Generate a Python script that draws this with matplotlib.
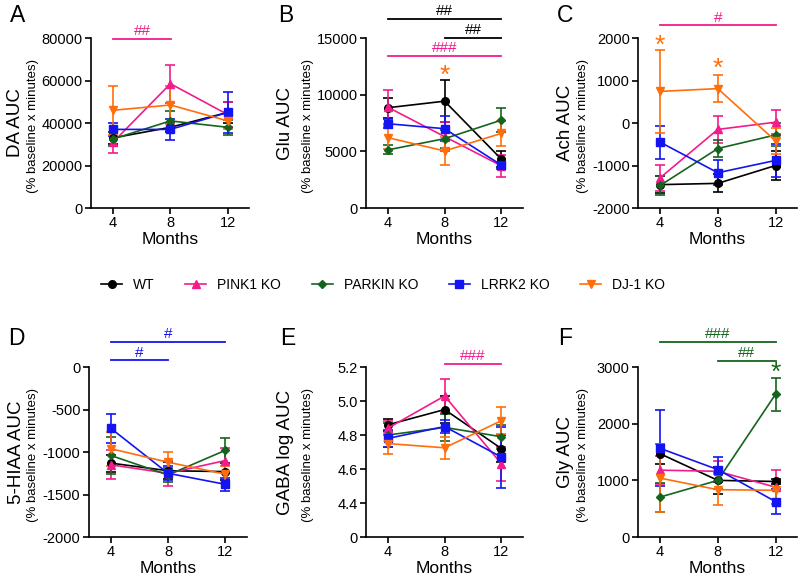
import matplotlib
matplotlib.use("Agg")
import matplotlib.pyplot as plt
from matplotlib.lines import Line2D

plt.rcParams['font.family'] = ['Liberation Sans', 'DejaVu Sans']
plt.rcParams['axes.unicode_minus'] = False

months = [4, 8, 12]
groups = ['WT', 'PINK1 KO', 'PARKIN KO', 'LRRK2 KO', 'DJ-1 KO']

# Panel A: DA AUC
da_wt = [33000, 38000, 45000];      da_wt_err = [3000, 2000, 5000]
da_pink1 = [31000, 58500, 44000];   da_pink1_err = [5000, 9000, 6000]
da_parkin = [32500, 41000, 38000];  da_parkin_err = [3500, 4500, 3500]
da_lrrk2 = [37000, 37000, 45000];   da_lrrk2_err = [3000, 5000, 9500]
da_dj1 = [46000, 48500, 41000];     da_dj1_err = [11500, 9000, 4000]

# Panel B: Glu AUC
glu_wt = [8850, 9430, 4300];        glu_wt_err = [900, 1850, 700]
glu_pink1 = [8900, 6300, 3720];     glu_pink1_err = [1500, 1300, 1000]
glu_parkin = [5130, 6120, 7760];    glu_parkin_err = [400, 800, 1030]
glu_lrrk2 = [7440, 7000, 3780];     glu_lrrk2_err = [400, 1100, 300]
glu_dj1 = [6210, 5040, 6590];       glu_dj1_err = [1000, 1200, 1100]

# Panel C: Ach AUC
ach_wt = [-1450, -1420, -1000];     ach_wt_err = [200, 210, 350]
ach_pink1 = [-1290, -150, 20];      ach_pink1_err = [300, 320, 280]
ach_parkin = [-1470, -600, -280];   ach_parkin_err = [220, 200, 270]
ach_lrrk2 = [-450, -1170, -880];    ach_lrrk2_err = [390, 300, 380]
ach_dj1 = [745, 810, -420];         ach_dj1_err = [975, 320, 300]

# Panel D: 5-HIAA AUC
hiaa_wt = [-1130, -1220, -1230];    hiaa_wt_err = [100, 100, 100]
hiaa_pink1 = [-1150, -1250, -1100]; hiaa_pink1_err = [170, 150, 150]
hiaa_parkin = [-1040, -1270, -980]; hiaa_parkin_err = [215, 80, 150]
hiaa_lrrk2 = [-720, -1250, -1380];  hiaa_lrrk2_err = [170, 80, 80]
hiaa_dj1 = [-960, -1120, -1260];    hiaa_dj1_err = [200, 120, 100]

# Panel E: GABA log AUC
gaba_wt = [4.86, 4.95, 4.72];       gaba_wt_err = [0.035, 0.08, 0.08]
gaba_pink1 = [4.84, 5.03, 4.63];    gaba_pink1_err = [0.04, 0.10, 0.10]
gaba_parkin = [4.80, 4.845, 4.79];  gaba_parkin_err = [0.07, 0.08, 0.07]
gaba_lrrk2 = [4.78, 4.85, 4.67];    gaba_lrrk2_err = [0.05, 0.04, 0.18]
gaba_dj1 = [4.75, 4.725, 4.885];    gaba_dj1_err = [0.06, 0.065, 0.08]

# Panel F: Gly AUC
gly_wt = [1470, 1000, 980];         gly_wt_err = [180, 240, 40]
gly_pink1 = [1180, 1160, 880];      gly_pink1_err = [250, 180, 300]
gly_parkin = [705, 1000, 2520];     gly_parkin_err = [255, 150, 290]
gly_lrrk2 = [1565, 1190, 625];      gly_lrrk2_err = [670, 215, 225]
gly_dj1 = [1040, 835, 825];         gly_dj1_err = [600, 275, 150]

C_BLACK = '#000000'
C_PINK = '#F21C8C'
C_GREEN = '#14641E'
C_BLUE = '#1414F0'
C_ORANGE = '#FF6E0A'
colors = [C_BLACK, C_PINK, C_GREEN, C_BLUE, C_ORANGE]
markers = ['o', '^', 'D', 's', 'v']
msizes = [5.5, 6, 4.5, 5.5, 6]

panels = [
    dict(title='DA AUC',
         series=[(da_wt, da_wt_err), (da_pink1, da_pink1_err), (da_parkin, da_parkin_err),
                 (da_lrrk2, da_lrrk2_err), (da_dj1, da_dj1_err)],
         ylim=(0, 80000), yticks=[0, 20000, 40000, 60000, 80000], yticklabels=None,
         sig=[(4, 8.05, 79700, '##', C_PINK)], stars=[],
         pos=[0.114, 0.6426, 0.1975, 0.292], lab=(-76, -58)),
    dict(title='Glu AUC',
         series=[(glu_wt, glu_wt_err), (glu_pink1, glu_pink1_err), (glu_parkin, glu_parkin_err),
                 (glu_lrrk2, glu_lrrk2_err), (glu_dj1, glu_dj1_err)],
         ylim=(0, 15000), yticks=[0, 5000, 10000, 15000], yticklabels=None,
         sig=[(4, 12, 16700, '##', C_BLACK), (8, 12, 15000, '##', C_BLACK),
              (4, 12, 13400, '###', C_PINK)],
         stars=[(8, 11700, C_ORANGE)],
         pos=[0.4575, 0.6426, 0.196, 0.292], lab=(-80, -58)),
    dict(title='Ach AUC',
         series=[(ach_wt, ach_wt_err), (ach_pink1, ach_pink1_err), (ach_parkin, ach_parkin_err),
                 (ach_lrrk2, ach_lrrk2_err), (ach_dj1, ach_dj1_err)],
         ylim=(-2000, 2000), yticks=[-2000, -1000, 0, 1000, 2000], yticklabels=None,
         sig=[(4, 12, 2300, '#', C_PINK)],
         stars=[(4, 1820, C_ORANGE), (8, 1270, C_ORANGE)],
         pos=[0.7975, 0.6426, 0.199, 0.292], lab=(-72, -55)),
    dict(title='5-HIAA AUC',
         series=[(hiaa_wt, hiaa_wt_err), (hiaa_pink1, hiaa_pink1_err), (hiaa_parkin, hiaa_parkin_err),
                 (hiaa_lrrk2, hiaa_lrrk2_err), (hiaa_dj1, hiaa_dj1_err)],
         ylim=(-2000, 0), yticks=[-2000, -1500, -1000, -500, 0], yticklabels=None,
         sig=[(4, 12, 300, '#', C_BLUE), (4, 8, 80, '#', C_BLUE)], stars=[],
         pos=[0.111, 0.0773, 0.1975, 0.292], lab=(-72, -56)),
    dict(title='GABA log AUC',
         series=[(gaba_wt, gaba_wt_err), (gaba_pink1, gaba_pink1_err), (gaba_parkin, gaba_parkin_err),
                 (gaba_lrrk2, gaba_lrrk2_err), (gaba_dj1, gaba_dj1_err)],
         ylim=(4.2, 5.2), yticks=[4.2, 4.4, 4.6, 4.8, 5.0, 5.2],
         yticklabels=['0', '4.4', '4.6', '4.8', '5.0', '5.2'],
         sig=[(8, 12, 5.22, '###', C_PINK)], stars=[],
         pos=[0.4575, 0.0773, 0.196, 0.292], lab=(-80, -58)),
    dict(title='Gly AUC',
         series=[(gly_wt, gly_wt_err), (gly_pink1, gly_pink1_err), (gly_parkin, gly_parkin_err),
                 (gly_lrrk2, gly_lrrk2_err), (gly_dj1, gly_dj1_err)],
         ylim=(0, 3000), yticks=[0, 1000, 2000, 3000], yticklabels=None,
         sig=[(4, 12, 3450, '###', C_GREEN), (8, 12, 3110, '##', C_GREEN)],
         stars=[(12, 2900, C_GREEN)],
         pos=[0.7975, 0.0773, 0.199, 0.292], lab=(-72, -55)),
]

fig = plt.figure(figsize=(8.0, 5.82), dpi=100)
LW = 1.2

for p in panels:
    ax = fig.add_axes(p['pos'])
    for (vals, err), c, m, ms in zip(p['series'], colors, markers, msizes):
        ax.errorbar(months, vals, yerr=err, color=c, marker=m, markersize=ms,
                    linewidth=LW, elinewidth=LW, capsize=3.5, capthick=LW,
                    clip_on=False, zorder=3)
    ax.set_xlim(2.47, 13.5)
    ax.set_ylim(*p['ylim'])
    ax.set_xticks(months)
    ax.set_yticks(p['yticks'])
    if p['yticklabels'] is not None:
        ax.set_yticklabels(p['yticklabels'])
    for s in ['top', 'right']:
        ax.spines[s].set_visible(False)
    for s in ['left', 'bottom']:
        ax.spines[s].set_linewidth(1.2)
    ax.tick_params(axis='both', width=1.2, length=4, labelsize=10.5, pad=2)
    ax.set_xlabel('Months', fontsize=12.5, labelpad=1)
    ax.annotate(p['title'], xy=(0, 0.5), xycoords='axes fraction',
                xytext=(p['lab'][0] * 0.72, 0), textcoords='offset points',
                rotation=90, ha='center', va='center', fontsize=13.5)
    ax.annotate('(% baseline x minutes)', xy=(0, 0.48), xycoords='axes fraction',
                xytext=(p['lab'][1] * 0.72, 0), textcoords='offset points',
                rotation=90, ha='center', va='center', fontsize=9.5)
    for (x1, x2, y, txt, c) in p['sig']:
        ax.plot([x1, x2], [y, y], color=c, linewidth=1.3, clip_on=False)
        ax.annotate(txt, xy=((x1 + x2) / 2, y), xycoords='data',
                    xytext=(0, 0.5), textcoords='offset points',
                    ha='center', va='bottom', color=c, fontsize=11,
                    annotation_clip=False)
    for (x, y, c) in p['stars']:
        ax.text(x, y, '*', color=c, fontsize=19, ha='center', va='center',
                clip_on=False)

# panel letters (figure pixel positions)
letter_pos = {'A': (10, 22), 'B': (278, 22), 'C': (557, 22),
              'D': (8, 345), 'E': (280, 345), 'F': (558, 345)}
for L, (px, py) in letter_pos.items():
    fig.text(px / 800.0, 1 - py / 582.0, L, fontsize=16.5, ha='left', va='baseline')

handles = [Line2D([0], [0], color=c, marker=m, markersize=ms, linewidth=LW)
           for c, m, ms in zip(colors, markers, msizes)]
fig.legend(handles, groups, loc='center', bbox_to_anchor=(0.479, 0.51), ncol=5,
           frameon=False, fontsize=10, handlelength=1.5, handletextpad=0.8,
           columnspacing=2.2)

fig.savefig('out.png', dpi=100)
